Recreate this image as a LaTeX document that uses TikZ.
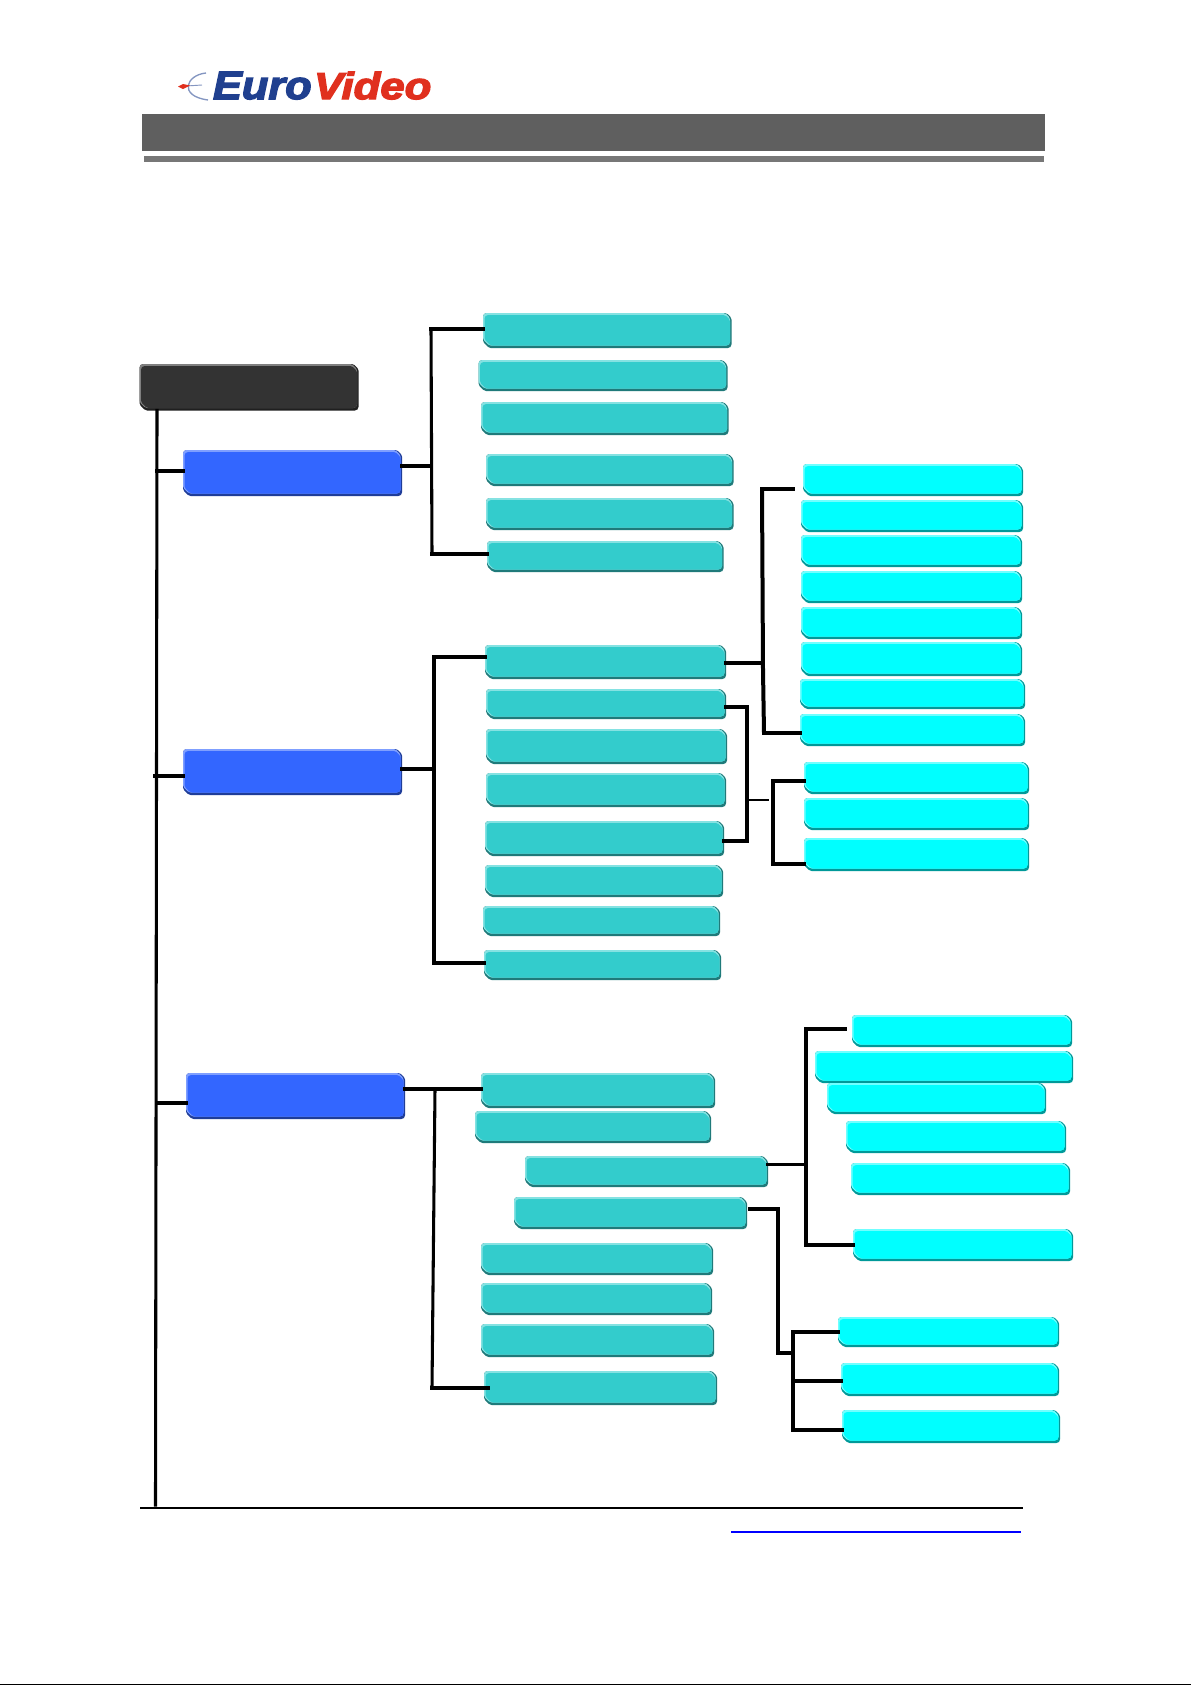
\documentclass[tikz,border=0pt]{standalone}
\usepackage{graphicx}
\usepackage{fontspec}
\setmainfont{Liberation Sans}
\newfontfamily\logofont[BoldItalicFeatures={FakeBold=3.2}]{Liberation Sans}
\usetikzlibrary{fit}
\definecolor{tealm}{HTML}{33CCCC}\definecolor{teall}{HTML}{85E2E2}\definecolor{teald}{HTML}{1F7A7A}
\definecolor{cyanm}{HTML}{00FFFF}\definecolor{cyanl}{HTML}{70FFFF}\definecolor{cyand}{HTML}{009999}
\definecolor{bluem}{HTML}{3366FF}\definecolor{bluel}{HTML}{7F9FFF}\definecolor{blued}{HTML}{1F3D99}
\definecolor{rootm}{HTML}{333333}\definecolor{rootl}{HTML}{808080}\definecolor{rootd}{HTML}{1F1F1F}
\definecolor{logoblue}{HTML}{20408F}\definecolor{logored}{HTML}{E0301E}
% #1 x1, #2 y1, #3 x2, #4 y2, #5 colour: chamfered plate outline
\newcommand{\platepath}[5]{\fill[#5,rounded corners=1.2pt] (#1+2,#2)--(#3-5,#2)--(#3,#2+5)--(#3,#4-2)--(#3-2,#4)--(#1+6,#4)--(#1,#4-6)--(#1,#2+2)--cycle;}
% #1 name, #2 x1, #3 y1, #4 x2, #5 y2, #6 colour prefix
\newcommand{\bevbox}[6]{%
  \platepath{#2}{#3}{#4}{#5}{#6d}%
  \platepath{#2}{#3}{#4-1.5}{#5-2.5}{#6l}%
  \platepath{#2+1.5}{#3+2}{#4-1.5}{#5-2.5}{#6m}%
  \node[plate,fit={(#2,#3)(#4,#5)}] (#1) {};}
\tikzset{
  plate/.style={inner sep=0pt,outer sep=0pt,draw=none},
  conn/.style={black,line width=2.3pt,line cap=rect},
  heavy/.style={black,line width=3pt,line cap=rect},
  slim/.style={black,line width=1.4pt},
  logotext/.style={inner sep=0pt,outer sep=0pt,anchor=south west}
}
\begin{document}
\begin{tikzpicture}[x=0.75pt,y=-0.75pt]
\useasboundingbox (0,0) rectangle (1191,1685);
\fill[white] (0,0) rectangle (1191,1685);

% header
\node[logotext,text=logoblue] (logoA) at (213,99.5) {\resizebox{74pt}{20.5pt}{\logofont\bfseries\itshape Euro}};
\node[logotext,text=logored] (logoB) at (314,99.5) {\resizebox{88pt}{20.5pt}{\logofont\bfseries\itshape Video}};
\draw[logoblue!55,line width=1pt] (206,73) .. controls (186,75) and (178,96) .. (208,100);
\draw[logoblue!55,line width=0.7pt] (186,86) -- (202,85);
\fill[logored] (178,86.5) -- (183,84) -- (190,85.5) -- (183,89) -- cycle;
\fill[fill={rgb,255:red,95;green,95;blue,95}] (142,114) rectangle (1045,151);
\fill[fill={rgb,255:red,119;green,119;blue,119}] (144,156) rectangle (1044,162);

% root and level 1
\bevbox{R}{139.5}{364}{358.5}{410.5}{root}
\bevbox{B1}{183}{450}{402}{496}{blue}
\bevbox{B2}{183}{749}{402}{795}{blue}
\bevbox{B3}{186}{1073}{405}{1119}{blue}

% teal group 1
\bevbox{T1}{483}{313}{731.5}{348}{teal}
\bevbox{T2}{478.5}{360}{727.5}{391}{teal}
\bevbox{T3}{481}{402}{728.5}{435}{teal}
\bevbox{T4}{486}{454}{733.5}{486}{teal}
\bevbox{T5}{486}{498}{733.5}{530}{teal}
\bevbox{T6}{487}{541}{723.5}{572}{teal}
% teal group 2
\bevbox{T7}{485}{645}{726}{679}{teal}
\bevbox{T8}{486}{689}{726}{719}{teal}
\bevbox{T9}{486}{729}{727}{764}{teal}
\bevbox{T10}{486}{773}{726}{807}{teal}
\bevbox{T11}{485}{821}{724}{856}{teal}
\bevbox{T12}{485}{865}{723}{897}{teal}
\bevbox{T13}{483}{906}{720}{936}{teal}
\bevbox{T14}{484}{950}{721}{980}{teal}
% teal group 3
\bevbox{T15}{481}{1073}{715}{1108}{teal}
\bevbox{T16}{475}{1111}{711}{1143}{teal}
\bevbox{T17}{525}{1156}{768}{1187}{teal}
\bevbox{T18}{514}{1197}{747}{1229}{teal}
\bevbox{T19}{481}{1243}{713}{1275}{teal}
\bevbox{T20}{481}{1283}{712}{1315}{teal}
\bevbox{T21}{481}{1324}{714}{1357}{teal}
\bevbox{T22}{484}{1371}{717}{1405}{teal}
% cyan group 1
\bevbox{C1}{803}{464}{1023}{496}{cyan}
\bevbox{C2}{801}{500}{1023}{532}{cyan}
\bevbox{C3}{801}{535}{1022}{567}{cyan}
\bevbox{C4}{801}{571}{1022}{603}{cyan}
\bevbox{C5}{801}{607}{1022}{639}{cyan}
\bevbox{C6}{801}{642}{1022}{676}{cyan}
\bevbox{C7}{800}{679}{1025}{709}{cyan}
\bevbox{C8}{800}{714}{1025}{746}{cyan}
\bevbox{C9}{804}{762}{1029}{794}{cyan}
\bevbox{C10}{804}{798}{1029}{830}{cyan}
\bevbox{C11}{804}{838}{1029}{871}{cyan}
% cyan group 2
\bevbox{D1}{852}{1015}{1072}{1047}{cyan}
\bevbox{D2}{815}{1051}{1073}{1083}{cyan}
\bevbox{D3}{827}{1083}{1046}{1114}{cyan}
\bevbox{D4}{846}{1121}{1066}{1153}{cyan}
\bevbox{D5}{851}{1163}{1070}{1195}{cyan}
\bevbox{D6}{853}{1229}{1073}{1261}{cyan}
% cyan group 3
\bevbox{E1}{838}{1317}{1059}{1347}{cyan}
\bevbox{E2}{841}{1363}{1059}{1396}{cyan}
\bevbox{E3}{842}{1410}{1060}{1443}{cyan}

% junction points
\coordinate (trunkEnd) at (155.5,1505);
\coordinate (tb1) at (157,471);
\coordinate (tb2) at (155,776);
\coordinate (tb3) at (157,1103);
\coordinate (s1top) at (431,329);
\coordinate (s1mid) at (431,466);
\coordinate (s1bot) at (432,554);
\coordinate (s2top) at (434,657);
\coordinate (s2mid) at (434,769);
\coordinate (s2bot) at (434,963);
\coordinate (s3top) at (435,1089);
\coordinate (s3bot) at (432,1388);
\coordinate (s4top) at (762,489);
\coordinate (s4mid) at (762,662.5);
\coordinate (s4knee) at (763,670);
\coordinate (s4bot) at (764,733);
\coordinate (c1end) at (793,489);
\coordinate (s5top) at (747,707);
\coordinate (s5bot) at (747,841);
\coordinate (s5mid) at (748,800);
\coordinate (s6mid) at (769,800);
\coordinate (s6top) at (773,781);
\coordinate (s6bot) at (773,864);
\coordinate (s7top) at (806,1029);
\coordinate (s7mid) at (806,1164.5);
\coordinate (s7bot) at (806,1245);
\coordinate (d1end) at (845,1029);
\coordinate (t18out) at (750,1209);
\coordinate (s8top) at (778,1209);
\coordinate (s8bot) at (778,1353);
\coordinate (s9top) at (793,1332);
\coordinate (s9mid) at (793,1353);
\coordinate (s9e2) at (793,1381);
\coordinate (s9bot) at (793,1430);

% connectors
\draw[conn] (R.south -| 157,0) -- (trunkEnd);
\draw[conn] (tb1) -- (tb1 -| B1.west);
\draw[conn] (tb2) -- (tb2 -| B2.west);
\draw[conn] (tb3) -- (tb3 -| B3.west);

\draw[conn] (s1top) -- (s1bot);
\draw[conn] (s1mid -| B1.east) -- (s1mid);
\draw[conn] (s1top) -- (s1top -| T1.west);
\draw[conn] (s1bot) -- (s1bot -| T6.west);

\draw[conn] (s2top) -- (s2bot);
\draw[conn] (s2mid -| B2.east) -- (s2mid);
\draw[heavy] (s2top) -- (s2top -| T7.west);
\draw[conn] (s2bot) -- (s2bot -| T14.west);

\draw[conn] (s3top) -- (s3bot);
\draw[conn] (s3top -| B3.east) -- (s3top -| T15.west);
\draw[conn] (s3bot) -- ([xshift=3pt]s3bot -| T22.west);

\draw[heavy] (s4mid -| T7.east) -- (s4mid);
\draw[heavy,line cap=butt] (s4top) -- (s4knee);
\draw[heavy,line cap=butt] (s4knee) -- (s4bot);
\draw[heavy] (s4top) -- (c1end);
\draw[heavy] (s4bot) -- (s4bot -| C8.west);

\draw[heavy] (s5top -| T8.east) -- (s5top) -- (s5bot) -- (s5bot -| T11.east);
\draw[slim] (s5mid) -- (s6mid);
\draw[heavy] (s6top -| C9.west) -- (s6top) -- (s6bot) -- (s6bot -| C11.west);

\draw[conn] (s7mid -| T17.east) -- (s7mid);
\draw[conn] (d1end) -- (s7top) -- (s7bot) -- (s7bot -| D6.west);

\draw[conn] (t18out) -- (s8top) -- (s8bot) -- (s9mid);
\draw[conn] (s9top) -- (s9bot);
\draw[conn] (s9top) -- (s9top -| E1.west);
\draw[conn] (s9e2) -- (s9e2 -| E2.west);
\draw[conn] (s9bot) -- (s9bot -| E3.west);

% footer rules
\coordinate (ruleL) at (140,1508);
\coordinate (ruleR) at (1023,1508);
\coordinate (linkL) at (731,1532);
\coordinate (linkR) at (1021,1532);
\coordinate (pageL) at (0,1684.5);
\coordinate (pageR) at (1191,1684.5);
\draw[black,line width=1.3pt] (ruleL) -- (ruleR);
\draw[blue,line width=1.4pt] (linkL) -- (linkR);
\draw[black,line width=1.2pt] (pageL) -- (pageR);
\end{tikzpicture}
\end{document}
